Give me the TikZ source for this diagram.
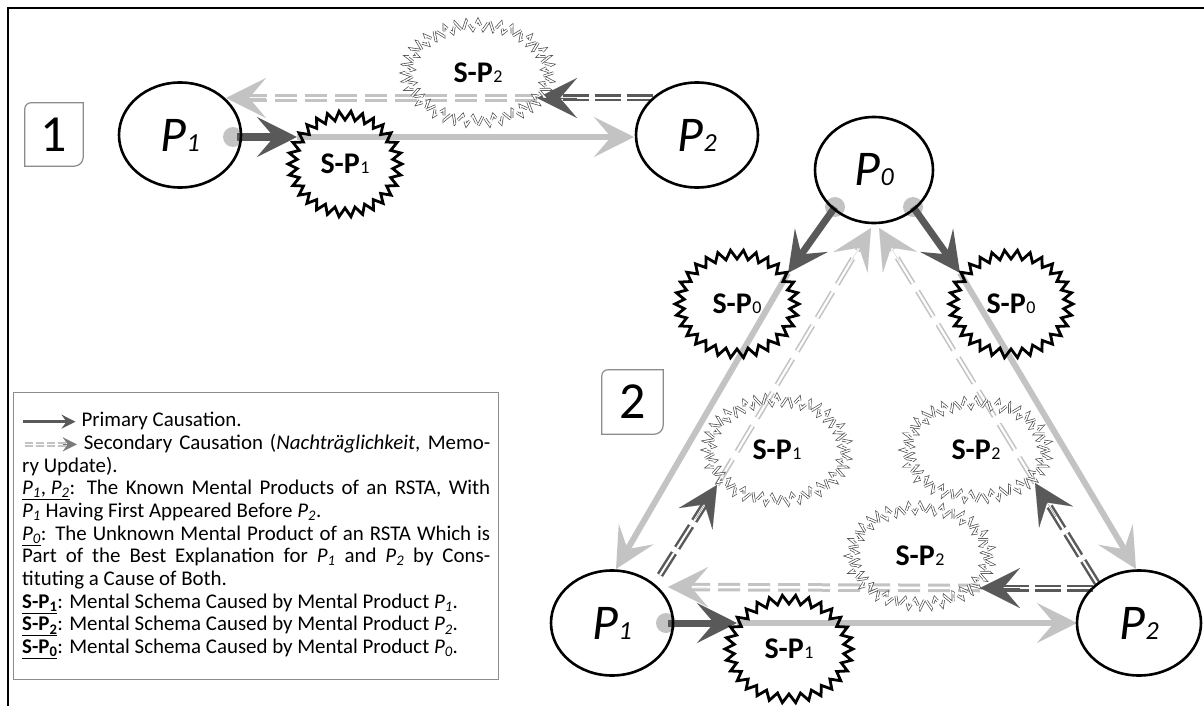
\documentclass[tikz,border=0pt]{standalone}
\usepackage{fontspec}
\setmainfont{Carlito}
\usetikzlibrary{arrows.meta,calc,shapes.geometric}
\definecolor{dk}{HTML}{595959}
\definecolor{lt}{HTML}{C3C3C3}
\definecolor{frameg}{HTML}{8C8C8C}
\pgfdeclarelayer{bg}
\pgfsetlayers{bg,main}

% labels of the mental products and schemata
\newcommand\plab[1]{{\fontsize{50}{50}\selectfont\itshape P\kern0.5pt{\fontsize{26}{26}\selectfont #1}}}
\newcommand\slab[1]{{\fontsize{30}{30}\selectfont\bfseries S-P\kern0.5pt{\fontsize{18}{18}\selectfont\mdseries #1}}}
\newcommand\lp[1]{\textit{P\textsubscript{#1}}}

% zig-zag outline around a node: node, rx, ry, points, depth, style
\newcommand\zigzag[6]{%
  \pgfmathtruncatemacro\zzend{2*#4}%
  \draw[#6, shift={(#1.center)}] plot[samples at={0,...,\zzend}, variable=\t]
    ({(#2-#5*mod(\t,2))*cos(\t*180/#4)}, {(#3-#5*mod(\t,2))*sin(\t*180/#4)}) -- cycle;}

% arrow head only: style, from, to
\newcommand\tipat[3]{\draw[#1] ($(#3)!40pt!(#2)$) -- (#3);}

\tikzset{
  pnode/.style={ellipse, draw=black, line width=2.6pt, minimum width=122pt, minimum height=105pt, inner sep=0pt},
  snode/.style={inner sep=0pt},
  bigtip/.style={-{Stealth[length=40pt,width=40pt,inset=17pt]}},
  darrow/.style={draw=dk, line width=7pt, bigtip},
  larrow/.style={draw=lt, line width=6pt, bigtip},
  ddash/.style={draw=dk, line width=2.5pt, double=white, double distance=2pt, dash pattern=on 26pt off 6pt, shorten >=20pt},
  ldash/.style={draw=lt, line width=3pt, double=white, double distance=2.5pt, dash pattern=on 22pt off 8pt, shorten >=20pt},
  lthin/.style={draw=lt, line width=1.6pt, double=white, double distance=2.2pt, dash pattern=on 30pt off 9pt, shorten >=20pt},
  dtip/.style={draw=dk, fill=dk, line width=0.1pt, bigtip},
  ltip/.style={draw=lt, fill=lt, line width=0.1pt, bigtip},
  hardstar/.style={draw=black, line width=2.8pt, line join=miter},
  softstar/.style={draw=black!70, line width=0.7pt, double=white, double distance=1.4pt, dash pattern=on 10pt off 4pt},
  tagline/.style={draw=frameg, line width=1.2pt},
  dot/.style={fill=lt},
}

\newcommand\legA{\tikz[baseline=-0.5ex]\draw[draw=dk,line width=2.6pt,-{Stealth[length=14pt,width=14pt,inset=5pt]}] (0pt,0pt) -- (52pt,0pt);}
\newcommand\legB{\tikz[baseline=-0.5ex]{\draw[draw=lt,line width=1.8pt,double=white,double distance=1.6pt,dash pattern=on 8pt off 3pt] (0pt,0pt) -- (42pt,0pt);
  \draw[draw=dk!80,fill=dk!80,line width=0.1pt,-{Stealth[length=14pt,width=14pt,inset=5pt]}] (38pt,0pt) -- (52pt,0pt);}}

\begin{document}
\begin{tikzpicture}[x=1pt,y=-1pt]
\useasboundingbox (0,0) rectangle (1204,706);
\draw[line width=2.6pt] (8,706) -- (8,8) -- (1204,8);

% ---------- panel 1 ----------
\node[minimum width=58pt, minimum height=63pt, inner sep=0pt] (box1) at (54,134.5) {\fontsize{52}{52}\selectfont 1};
\draw[tagline] (box1.south west) -- ($(box1.north west)+(0,6)$) arc[start angle=180,end angle=270,radius=6]
  -- (box1.north east) -- ($(box1.south east)+(0,-9)$) arc[start angle=0,end angle=90,radius=9] -- cycle;

\node[pnode] (P1a) at (180,135) {\plab{1}};
\node[pnode] (P2a) at (697,135) {\plab{2}};
\node[snode] (SP1a) at (345,164) {\slab{1}};
\node[snode] (SP2a) at (478,73) {\slab{2}};

% ---------- panel 2 ----------
\node[minimum width=61pt, minimum height=64pt, inner sep=0pt] (box2) at (632.5,402) {\fontsize{52}{52}\selectfont 2};
\draw[tagline] (box2.south west) -- ($(box2.north west)+(0,6)$) arc[start angle=180,end angle=270,radius=6]
  -- (box2.north east) -- ($(box2.south east)+(0,-9)$) arc[start angle=0,end angle=90,radius=9] -- cycle;

\node[pnode, minimum width=118pt, minimum height=106pt] (P0) at (874,170) {\plab{0}};
\node[pnode] (P1b) at (612,623) {\plab{1}};
\node[pnode, minimum width=124pt] (P2b) at (1139,623) {\plab{2}};
\node[snode] (SP0L) at (737,304) {\slab{0}};
\node[snode] (SP0R) at (1011,304) {\slab{0}};
\node[snode] (SP1b) at (789,649) {\slab{1}};
\node[snode] (SP1d) at (777,450) {\slab{1}};
\node[snode] (SP2u) at (976,450) {\slab{2}};
\node[snode] (SP2m) at (920,556) {\slab{2}};

% ---------- legend ----------
\node[draw=frameg, line width=1.3pt, minimum width=485pt, minimum height=287pt, anchor=north west, inner sep=0pt] (legend) at (13,392) {};
\node[anchor=north west, text width=468pt, align=justify, inner sep=0pt, font=\fontsize{20.9}{22.7}\selectfont] (legtext) at ($(legend.north west)+(9,20)$) {%
\legA\ Primary Causation.\\
\legB\ Secondary Causation (\textit{Nachträglichkeit}, Memo-\linebreak
ry Update).\\
\underline{\lp{1}, \lp{2}}: The Known Mental Products of an RSTA, With\linebreak
\lp{1} Having First Appeared Before \lp{2}.\\
\underline{\lp{0}}: The Unknown Mental Product of an RSTA Which is\linebreak
Part of the Best Explanation for \lp{1} and \lp{2} by Cons-\linebreak
tituting a Cause of Both.\\
\underline{\textbf{S-P\textsubscript{1}}}: Mental Schema Caused by Mental Product \lp{1}.\\
\underline{\textbf{S-P\textsubscript{2}}}: Mental Schema Caused by Mental Product \lp{2}.\\
\underline{\textbf{S-P\textsubscript{0}}}: Mental Schema Caused by Mental Product \lp{0}.};

% ---------- attachment points ----------
\coordinate (a1) at ($(P1a.center)+(57,2)$);
\coordinate (a2) at ($(SP1a.center)+(-48,-27)$);
\coordinate (a3) at ($(P2a.center)+(-63,2)$);
\coordinate (a4) at ($(P2a.center)+(-44,-37)$);
\coordinate (a5) at ($(SP2a.center)+(59,25)$);
\coordinate (a6) at ($(P1a.center)+(46,-37)$);

\coordinate (b1) at ($(P0.center)+(-39,37)$);
\coordinate (b2) at ($(P0.center)+(39,37)$);
\coordinate (b3) at ($(SP0L.center)+(51,-31)$);
\coordinate (b4) at ($(SP0R.center)+(-51,-31)$);
\coordinate (b5) at ($(P1b.center)+(4,-54)$);
\coordinate (b6) at ($(P2b.center)+(-3,-54)$);
\coordinate (b7) at ($(P1b.center)+(56,0)$);
\coordinate (b8) at ($(SP1b.center)+(-52,-26)$);
\coordinate (b9) at ($(P2b.center)+(-62,0)$);
\coordinate (b10) at ($(P2b.center)+(-46,-35)$);
\coordinate (b11) at ($(SP2m.center)+(60,32)$);
\coordinate (b12) at ($(P1b.center)+(56,-36)$);
\coordinate (b13) at ($(P1b.center)+(48,-48)$);
\coordinate (b14) at ($(SP1d.center)+(-60,35)$);
\coordinate (b15) at ($(P2b.center)+(-42,-40)$);
\coordinate (b16) at ($(SP2u.center)+(59,33)$);
\coordinate (b17) at ($(P0.center)+(-3,58)$);
\coordinate (b18) at ($(P0.center)+(5,58)$);

\begin{pgfonlayer}{bg}
  % start dots of the primary causations
  \fill[dot] (a1) ++(-4,0) circle[radius=10];
  \fill[dot] (b1) circle[radius=10];
  \fill[dot] (b2) circle[radius=10];
  \fill[dot] (b7) ++(-2,0) circle[radius=10];

  % panel 1 connectors
  \draw[ldash] (a5) -- (a6);  \tipat{ltip}{a5}{a6}
  \draw[larrow] (a2) -- (a3);
  \draw[darrow] (a1) -- (a2);
  \draw[ddash] (a4) -- (a5);  \tipat{dtip}{a4}{a5}

  % panel 2 connectors
  \draw[lthin] (b14) -- (b17); \tipat{ltip}{b14}{b17}
  \draw[lthin] (b16) -- (b18); \tipat{ltip}{b16}{b18}
  \draw[ldash] (b11) -- (b12); \tipat{ltip}{b11}{b12}
  \draw[larrow] (b3) -- (b5);
  \draw[larrow] (b4) -- (b6);
  \draw[larrow] (b8) -- (b9);
  \draw[darrow] (b1) -- (b3);
  \draw[darrow] (b2) -- (b4);
  \draw[darrow] (b7) -- (b8);
  \draw[ddash] (b10) -- (b11); \tipat{dtip}{b10}{b11}
  \draw[ddash] (b13) -- (b14); \tipat{dtip}{b13}{b14}
  \draw[ddash] (b15) -- (b16); \tipat{dtip}{b15}{b16}

  % schema outlines
  \zigzag{SP1a}{57}{53}{30}{9}{hardstar}
  \zigzag{SP0L}{62}{54}{30}{9}{hardstar}
  \zigzag{SP0R}{62}{54}{30}{9}{hardstar}
  \zigzag{SP1b}{64}{54}{30}{9}{hardstar}
  \zigzag{SP2a}{75}{53}{40}{10}{softstar}
  \zigzag{SP1d}{73}{55}{40}{10}{softstar}
  \zigzag{SP2u}{74}{52}{40}{10}{softstar}
  \zigzag{SP2m}{73}{53}{40}{10}{softstar}
\end{pgfonlayer}
\end{tikzpicture}
\end{document}
